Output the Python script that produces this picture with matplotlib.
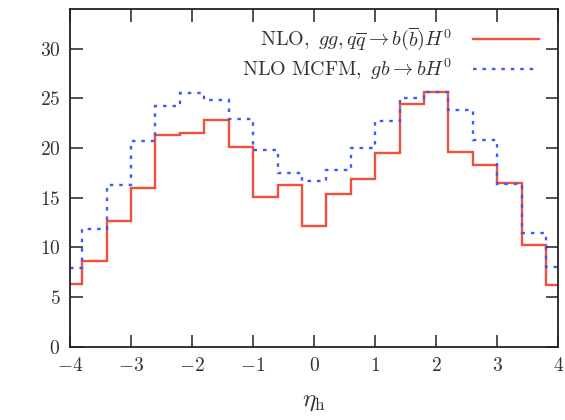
import numpy as np
import matplotlib
matplotlib.use('Agg')
from matplotlib import pyplot as plt
from matplotlib.ticker import FuncFormatter, MultipleLocator

plt.rcParams['mathtext.fontset'] = 'cm'
plt.rcParams['font.family'] = 'serif'
plt.rcParams['font.serif'] = ['DejaVu Serif']

# bin centres (width 0.4), clipped to [-4, 4] at the edges
eta_centres = np.arange(-4.0, 4.01, 0.4)
nlo_bbh = [6.3, 8.6, 12.7, 16.0, 21.3, 21.5, 22.8, 20.1, 15.1, 16.3, 12.2,
           15.4, 16.9, 19.5, 24.4, 25.6, 19.6, 18.3, 16.5, 10.2, 6.2]
nlo_mcfm = [7.9, 11.9, 16.3, 20.7, 24.2, 25.5, 24.8, 22.9, 19.8, 17.5, 16.7,
            17.8, 20.0, 22.7, 25.0, 25.6, 23.8, 20.8, 16.4, 11.5, 8.0]

lo = np.clip(eta_centres - 0.2, -4, 4)
edges = np.append(lo, 4.0)

fig = plt.figure(figsize=(5.65, 4.20), dpi=100)
ax = fig.add_axes([0.124, 0.174, 0.864, 0.805])

ax.stairs(nlo_bbh, edges, color='#f0503c', lw=1.7, baseline=None,
          label=r'$\mathrm{NLO},\ gg, q\overline{q} \rightarrow b(\overline{b})H^0$')
ax.stairs(nlo_mcfm, edges, color='#3c5af5', lw=1.7, baseline=None,
          linestyle=(0, (1.5, 2.5)),
          label=r'$\mathrm{NLO\ MCFM},\ gb \rightarrow bH^0$')

ax.set_xlim(-4, 4)
ax.set_ylim(0, 34)
ax.xaxis.set_major_locator(MultipleLocator(1))
ax.yaxis.set_major_locator(MultipleLocator(5))
fmt = FuncFormatter(lambda v, p: r'$%d$' % round(v))
ax.xaxis.set_major_formatter(fmt)
ax.yaxis.set_major_formatter(fmt)
ax.tick_params(direction='in', top=True, right=True, length=9, width=1.2,
               labelsize=14, colors='#333333', pad=7)
for s in ax.spines.values():
    s.set_linewidth(1.3)
    s.set_color('#222222')

ax.set_xlabel(r'$\eta_\mathrm{h}$', fontsize=18, color='#333333', labelpad=11)

leg = ax.legend(loc='upper right', frameon=False, markerfirst=False,
                fontsize=14.5, handlelength=3.3, borderaxespad=0.3,
                labelspacing=0.15, handletextpad=1.0,
                bbox_to_anchor=(0.99, 0.99))
for t in leg.get_texts():
    t.set_color('#333333')

fig.savefig('out.png')
